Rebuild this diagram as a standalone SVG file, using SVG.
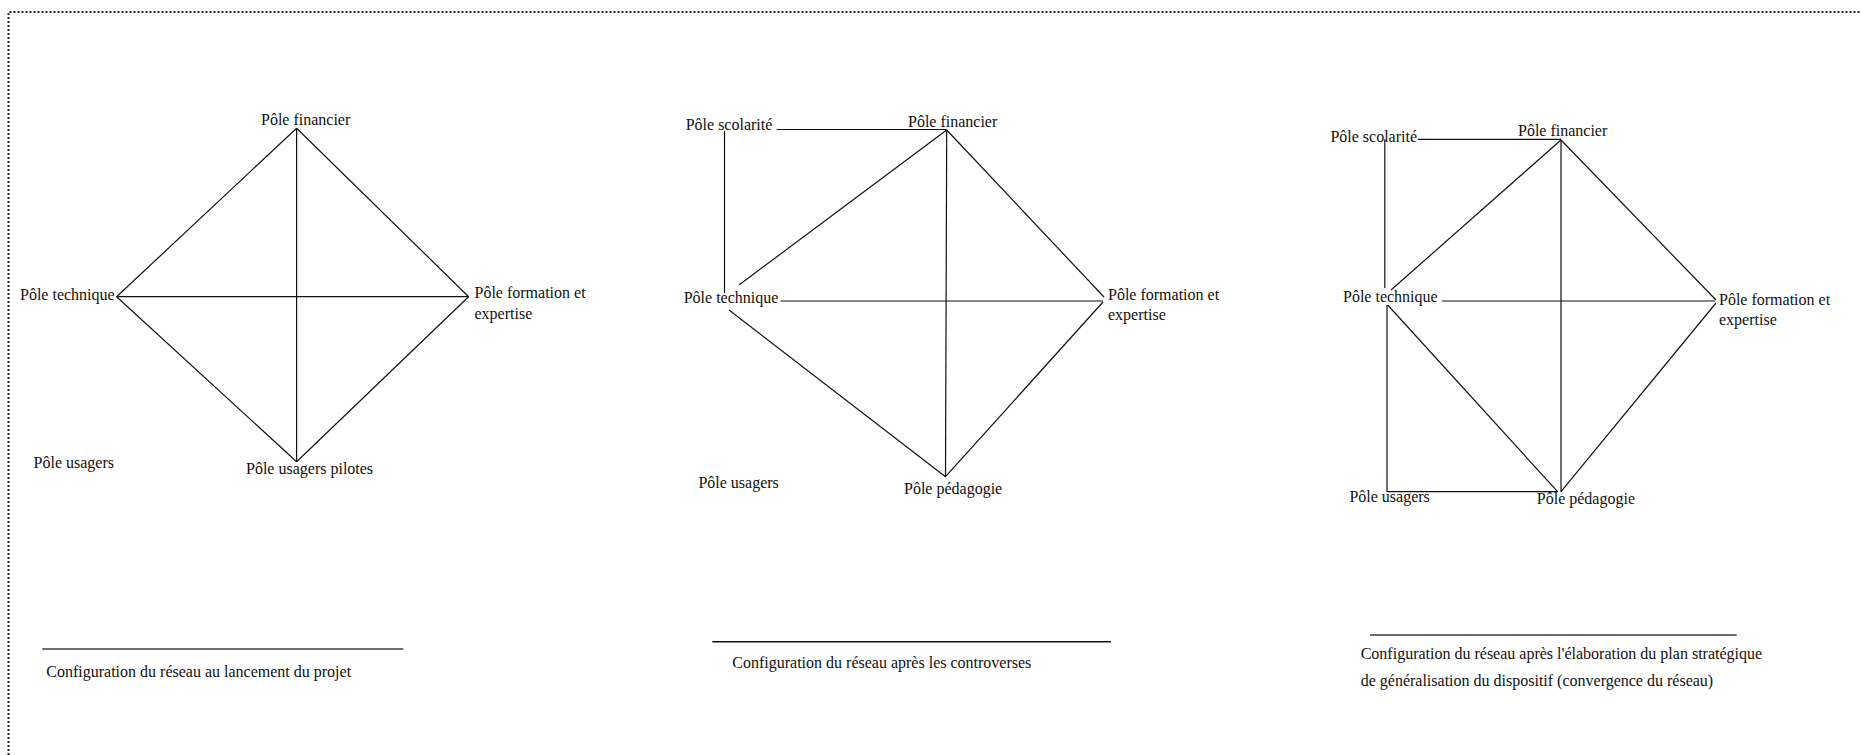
<svg xmlns="http://www.w3.org/2000/svg" width="1861" height="755" viewBox="0 0 1861 755">
<style>
text { font-family: "Liberation Serif", "Times New Roman", serif; font-size: 16px; fill: #111; }
.e { stroke: #111; stroke-width: 1.2; fill: none; }
.sep { stroke: #6e6e6e; stroke-width: 2.2; }
.sepk { stroke: #111; stroke-width: 1.6; }
.frame { stroke: #222; stroke-width: 2; stroke-dasharray: 2 2; fill: none; }
</style>
<rect width="1861" height="755" fill="#fff"/>
<path class="frame" d="M8.5 755 V12 H1861"/>

<g id="connectors">
  <!-- diagram 1 -->
  <line class="e" x1="296.6" y1="128.3" x2="116.6" y2="296.7"/>
  <line class="e" x1="296.6" y1="128.3" x2="468.6" y2="296.7"/>
  <line class="e" x1="116.6" y1="296.7" x2="296.6" y2="461.7"/>
  <line class="e" x1="468.6" y1="296.7" x2="296.6" y2="461.7"/>
  <line class="e" x1="296.6" y1="128.3" x2="296.6" y2="461.7"/>
  <line class="e" x1="116.6" y1="296.7" x2="468.6" y2="296.7"/>
  <!-- diagram 2 -->
  <line class="e" x1="776.6" y1="129.5" x2="946.7" y2="129.5"/>
  <line class="e" x1="724.5" y1="131" x2="724.5" y2="293"/>
  <line class="e" x1="946.7" y1="130" x2="739" y2="285"/>
  <line class="e" x1="946.7" y1="130" x2="1104" y2="297"/>
  <line class="e" x1="946.7" y1="130" x2="945.5" y2="476.7"/>
  <line class="e" x1="780.6" y1="301" x2="1103" y2="301"/>
  <line class="e" x1="729" y1="310" x2="945.5" y2="476.7"/>
  <line class="e" x1="1103" y1="302" x2="945.5" y2="476.7"/>
  <!-- diagram 3 -->
  <line class="e" x1="1418" y1="139.3" x2="1561" y2="139.3"/>
  <line class="e" x1="1384.8" y1="139.3" x2="1384.8" y2="288"/>
  <line class="e" x1="1561" y1="140" x2="1391" y2="290"/>
  <line class="e" x1="1561" y1="140" x2="1716" y2="300"/>
  <line class="e" x1="1561" y1="140" x2="1561" y2="491.7"/>
  <line class="e" x1="1442" y1="301" x2="1715" y2="301"/>
  <line class="e" x1="1387.7" y1="305" x2="1557.6" y2="491.7"/>
  <line class="e" x1="1716" y1="303" x2="1561" y2="491.7"/>
  <line class="e" x1="1387" y1="305" x2="1387" y2="491.7"/>
  <line class="e" x1="1387" y1="491.7" x2="1558" y2="491.7"/>
  <!-- caption separators -->
  <line class="sep" x1="42.3" y1="649" x2="403.3" y2="649"/>
  <line class="sepk" x1="712.3" y1="641.7" x2="1111" y2="641.7"/>
  <line class="sep" x1="1370" y1="635" x2="1736.7" y2="635"/>
</g>

<g id="d1-financier"><text x="261" y="125">Pôle financier</text></g>
<g id="d1-technique"><text x="20" y="300">Pôle technique</text></g>
<g id="d1-formation"><text x="474.5" y="298.3">Pôle formation et</text><text x="474.5" y="318.5">expertise</text></g>
<g id="d1-usagers"><text x="33.6" y="468">Pôle usagers</text></g>
<g id="d1-pilotes"><text x="246" y="474">Pôle usagers pilotes</text></g>

<g id="d2-scolarite"><text x="685.7" y="130">Pôle scolarité</text></g>
<g id="d2-financier"><text x="908" y="126.7">Pôle financier</text></g>
<g id="d2-technique"><text x="683.7" y="303.3">Pôle technique</text></g>
<g id="d2-formation"><text x="1108" y="300">Pôle formation et</text><text x="1108" y="320">expertise</text></g>
<g id="d2-usagers"><text x="698.4" y="488.3">Pôle usagers</text></g>
<g id="d2-pedagogie"><text x="904" y="494">Pôle pédagogie</text></g>

<g id="d3-scolarite"><text x="1330.4" y="141.7">Pôle scolarité</text></g>
<g id="d3-financier"><text x="1518" y="136">Pôle financier</text></g>
<g id="d3-technique"><text x="1343" y="301.7">Pôle technique</text></g>
<g id="d3-formation"><text x="1719" y="305">Pôle formation et</text><text x="1719" y="325">expertise</text></g>
<g id="d3-usagers"><text x="1349.4" y="502">Pôle usagers</text></g>
<g id="d3-pedagogie"><text x="1536.8" y="504">Pôle pédagogie</text></g>

<g id="caption1"><text x="46.3" y="676.7">Configuration du réseau au lancement du projet</text></g>
<g id="caption2"><text x="732.3" y="668.3">Configuration du réseau après les controverses</text></g>
<g id="caption3"><text x="1360.7" y="659.3">Configuration du réseau après l'élaboration du plan stratégique</text><text x="1360.7" y="686">de généralisation du dispositif (convergence du réseau)</text></g>
</svg>
